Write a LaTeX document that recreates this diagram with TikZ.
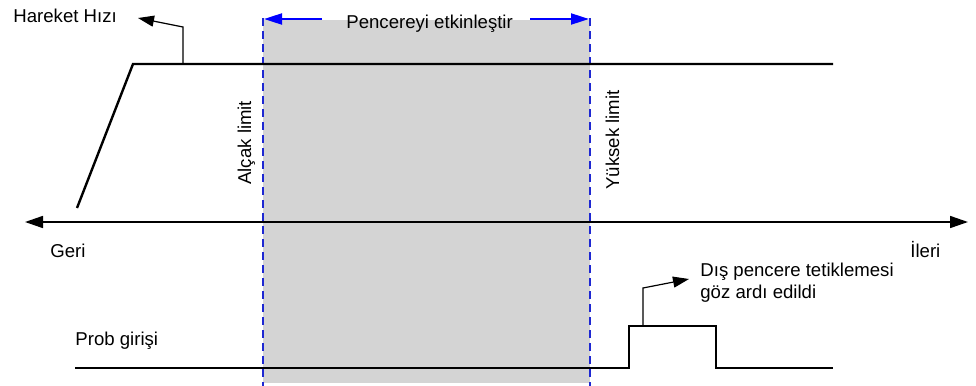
\documentclass[tikz,border=0pt]{standalone}
\usepackage{fontspec}
\setmainfont{Liberation Sans}
\usetikzlibrary{arrows.meta}
\definecolor{winfill}{RGB}{212,212,212}
\definecolor{limblue}{RGB}{30,40,210}
\begin{document}
\begin{tikzpicture}[x=0.5pt,y=-0.5pt,
  lbl/.style={font=\fontsize{9.3}{11}\selectfont, inner sep=0pt},
  sig/.style={line width=1.2pt, line join=miter},
  callout/.style={line width=0.6pt, -{Triangle[length=8pt,width=5.5pt]}},
  axisline/.style={line width=0.8pt, {Triangle[length=9pt,width=6pt]}-{Triangle[length=9pt,width=6pt]}},
  limline/.style={draw=limblue, line width=0.8pt, dash pattern=on 4pt off 2.5pt},
  winarrow/.style={draw=blue, line width=1pt, -{Triangle[length=9pt,width=5.5pt]}, blue}
]
\useasboundingbox (0,0) rectangle (976,386);

% window
\fill[winfill] (263,20) rectangle (590,383);
\coordinate (lowtop) at (263,18);
\coordinate (lowbot) at (263,386);
\coordinate (hightop) at (590,18);
\coordinate (highbot) at (590,386);
\draw[limline] (lowtop) -- (lowbot);
\draw[limline] (hightop) -- (highbot);

% window label and arrows
\node[lbl, anchor=base west] (win) at (346,28) {Pencereyi etkinleştir};
\coordinate (wl0) at (322,19);
\coordinate (wl1) at (264,19);
\coordinate (wr0) at (530,19);
\coordinate (wr1) at (589,19);
\draw[winarrow] (wl0) -- (wl1);
\draw[winarrow] (wr0) -- (wr1);

% limit labels
\node[lbl, anchor=base west, rotate=90] (low) at (251,185) {Alçak limit};
\node[lbl, anchor=base west, rotate=90] (high) at (619,190) {Yüksek limit};

% axis
\coordinate (axl) at (25,222);
\coordinate (axr) at (968,222);
\draw[axisline] (axl) -- (axr);
\node[lbl, anchor=base west] (geri) at (50,257) {Geri};
\node[lbl, anchor=base west] (ileri) at (910,257) {İleri};

% speed
\node[lbl, anchor=base west] (hh) at (13,22) {Hareket Hızı};
\coordinate (s0) at (77,208);
\coordinate (s1) at (133,64);
\coordinate (s2) at (833,64);
\draw[sig] (s0) -- (s1) -- (s2);
\coordinate (hc0) at (183,64);
\coordinate (hc1) at (183,27);
\coordinate (hc2) at (138,18);
\draw[callout] (hc0) -- (hc1) -- (hc2);

% probe
\node[lbl, anchor=base west] (prob) at (75,345) {Prob girişi};
\coordinate (p0) at (75,368);
\coordinate (p1) at (629,368);
\coordinate (p2) at (629,326);
\coordinate (p3) at (716,326);
\coordinate (p4) at (716,368);
\coordinate (p5) at (833,368);
\draw[sig] (p0) -- (p1) -- (p2) -- (p3) -- (p4) -- (p5);
\coordinate (pc0) at (643,326);
\coordinate (pc1) at (643,288);
\coordinate (pc2) at (689,279);
\draw[callout] (pc0) -- (pc1) -- (pc2);
\node[lbl, anchor=north west, align=left] (dis) at (700,263) {Dış pencere tetiklemesi\\göz ardı edildi};
\end{tikzpicture}
\end{document}
